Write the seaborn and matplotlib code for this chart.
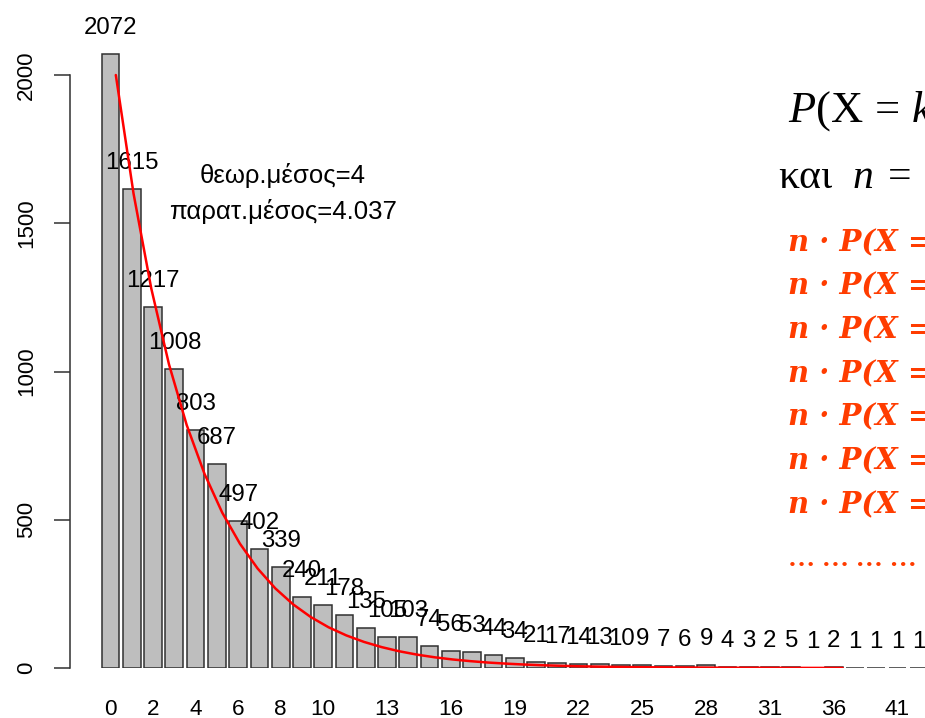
import matplotlib
matplotlib.use("Agg")
import matplotlib.pyplot as plt
import seaborn as sns
import pandas as pd

# observed counts for each value of X (n = 10000 draws)
categories = [str(k) for k in range(32)] + ["32", "33", "36", "37", "39", "41", "44"]
counts = [2072, 1615, 1217, 1008, 803, 687, 497, 402, 339, 240,
          211, 178, 135, 105, 103, 74, 56, 53, 44, 34,
          21, 17, 14, 13, 10, 9, 7, 6, 9, 4,
          3, 2, 5, 1, 2, 1, 1, 1, 1]

# labels R managed to draw under the bars
shown_ticks = ["0", "2", "4", "6", "8", "10", "13", "16", "19", "22", "25", "28", "31", "36", "41"]

# theoretical expected counts n*P(X=k), k = 0..41
expected = [2000, 1600, 1280, 1024, 819.2, 655.4, 524.3, 419.4, 335.5, 268.4,
            214.7, 171.8, 137.4, 110.0, 88.0, 70.4, 56.3, 45.0, 36.0, 28.8,
            23.1, 18.4, 14.8, 11.8, 9.4, 7.6, 6.0, 4.8, 3.9, 3.1,
            2.5, 2.0, 1.6, 1.3, 1.0, 0.8, 0.7, 0.5, 0.4, 0.3,
            0.3, 0.2]

theory_text = "θεωρ.μέσος=4"
observed_text = "παρατ.μέσος=4.037"

slide_lines = ["n · P(X = 0) = 2000", "n · P(X = 1) = 1600", "n · P(X = 2) = 1280",
               "n · P(X = 3) = 1024", "n · P(X = 4) = 819.2", "n · P(X = 5) = 655.4",
               "n · P(X = 6) = 524.3"]

sns.set_style("white")
plt.rcParams['font.family'] = ['Liberation Sans', 'DejaVu Sans']
plt.rcParams['text.color'] = 'black'
plt.rcParams['xtick.color'] = 'black'
plt.rcParams['ytick.color'] = 'black'
plt.rcParams['mathtext.fontset'] = 'custom'
plt.rcParams['mathtext.rm'] = 'Liberation Serif'
plt.rcParams['mathtext.it'] = 'Liberation Serif:italic'

W, H = 925, 718
fig = plt.figure(figsize=(W / 100, H / 100), dpi=100)
ax = fig.add_axes([70 / W, 50 / H, 855 / W, 668 / H])

df = pd.DataFrame({"x": categories, "count": counts})
sns.barplot(data=df, x="x", y="count", order=categories, color="#BEBEBE",
            saturation=1, edgecolor="#303030", linewidth=1.1, width=1 / 1.2,
            errorbar=None, ax=ax)

# R draws the curve at x = k+1 while bars sit at 0.7 + 1.2*i
curve_x = [(k + 0.3) / 1.2 for k in range(len(expected))]
ax.plot(curve_x, expected, color="red", lw=1.8, zorder=5)

for i, v in enumerate(counts):
    ax.annotate(str(v), (i, v), xytext=(0, 14.4), textcoords="offset points",
                ha="center", va="baseline", fontsize=17.3, color="black")

ax.set_xlim(-1.904, 38.29)
ax.set_ylim(0, 2253)

tick_pos = [categories.index(t) for t in shown_ticks]
ax.set_xticks(tick_pos)
ax.set_xticklabels(shown_ticks, fontsize=16.2, color="black")
ax.tick_params(axis="x", length=0, pad=22)

ax.set_yticks([0, 500, 1000, 1500, 2000])
ax.set_yticklabels(["0", "500", "1000", "1500", "2000"], rotation=90,
                   va="center", fontsize=16, color="black")
ax.tick_params(axis="y", length=11.5, width=1.1, color="#303030", pad=12, left=True)

for s in ["top", "right", "bottom"]:
    ax.spines[s].set_visible(False)
ax.spines["left"].set_bounds(0, 2000)
ax.spines["left"].set_linewidth(1.1)
ax.spines["left"].set_color("#303030")
ax.set_xlabel("")
ax.set_ylabel("")

fig.text(283 / W, 1 - 175 / H, theory_text, ha="center", va="center", fontsize=18.5)
fig.text(283 / W, 1 - 212 / H, observed_text, ha="center", va="center", fontsize=18.5)

# pasted slide text on the right, cut by the picture edge
red = "#FF3C00"
fig.text(788 / W, 1 - 122 / H, r"$P(\mathrm{X}\,=\,k)$", ha="left", va="baseline",
         fontsize=32, color="black")
fig.text(778 / W, 1 - 188 / H, r"και  $n\;=\;10000$", ha="left", va="baseline",
         fontsize=30, color="black", family="Liberation Serif")
for j, line in enumerate(slide_lines):
    fig.text(788 / W, 1 - (251 + 43.7 * j) / H, line, ha="left", va="baseline",
             fontsize=21, color=red, family="DejaVu Serif",
             fontweight="bold", fontstyle="italic")
fig.text(788 / W, 1 - 566 / H, "… … … … …", ha="left", va="baseline",
         fontsize=19.5, color=red, family="Liberation Serif", fontweight="bold")

fig.savefig("out.png", dpi=100)
